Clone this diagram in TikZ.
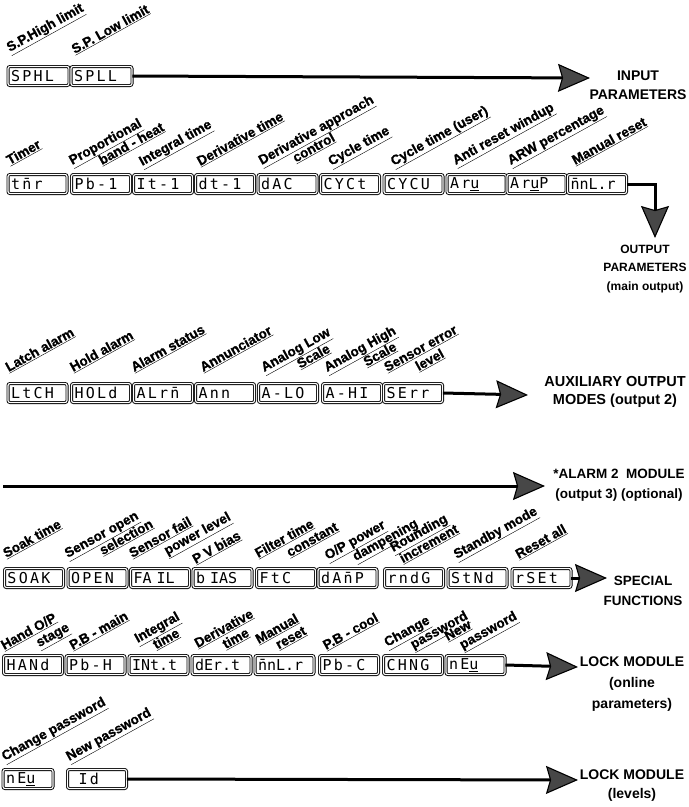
\documentclass[tikz,border=0pt]{standalone}
\usepackage{fontspec}
\setmainfont{Liberation Sans}
\newfontfamily\segfamily[LetterSpace=15]{DejaVu Sans Mono}
\newfontfamily\tagfamily[FakeBold=1]{Liberation Sans Bold}
\usetikzlibrary{arrows.meta,calc}
\newcommand\segfont{\segfamily\fontsize{15}{15}\selectfont}
\newcommand\segtight[1]{{\addfontfeature{LetterSpace=0}#1}}
\newcommand\tagfont{\tagfamily\fontsize{13.5}{14}\selectfont}
\newcommand\tagu[1]{\underline{#1}}
% one-line label: name, box, dx, dy, text
\newcommand\onetag[5]{%
  \node[tag] (#1) at ([shift={(#3pt,#4pt)}]#2.north west) {\tagu{#5}};}
% two-line label: name, box, dx, dy, line1, line2, along-shift
\newcommand\twotag[7]{%
  \node[tag] (#1) at ([shift={(#3pt,#4pt)}]#2.north west) {\tagu{#5}};
  \node[tag] (#1b) at ($(#1.base west)+(-61:14.5pt)+(29:#7pt)$) {\tagu{#6}};}
\begin{document}
\begin{tikzpicture}[x=1pt,y=-1pt,
  lcd/.style={draw, line width=0.9pt, double, double distance=1.2pt, rounded corners=2pt,
    minimum height=19pt, text width=53pt, align=left, inner xsep=3pt, inner ysep=0pt, font=\segfont},
  tag/.style={rotate=29, anchor=base west, inner sep=0pt, font=\tagfont},
  flow/.style={line width=3pt, -{Stealth[length=32pt,width=28pt,inset=4pt,fill=black!72,line width=1.1pt]}},
  dest/.style={align=center, inner sep=0pt}]
\useasboundingbox (0,0) rectangle (689,807);
\fill[white] (0,0) rectangle (689,807);

% ---------- Row 1: input parameters
\node[lcd, text width=55pt] (sphl) at (38.5,76) {SPHL};
\node[lcd, text width=55pt] (spll) at (101.5,76) {SPLL};
\onetag{t-sphl}{sphl}{2}{14}{S.P.High limit}
\onetag{t-spll}{spll}{4}{12}{S.P. Low limit}
\coordinate (inp-tip) at (590,78);
\draw[flow] (spll.east) -- (inp-tip);
\node[dest, font=\fontsize{14}{19}\selectfont\bfseries] (inp) at (638,85) {INPUT\\PARAMETERS};

% ---------- Row 2: output parameters
\node[lcd] (tmr) at (37.5,184) {t\=nr};
\node[lcd] (pbh) at (101,184) {Pb-1};
\node[lcd] (it) at (163,184) {It-1};
\node[lcd] (dt) at (225,184) {dt-1};
\node[lcd] (dac) at (287.5,184) {dAC};
\node[lcd] (cyct) at (350,184) {CYCt};
\node[lcd] (cycu) at (413.5,184) {CYCU};
\node[lcd] (arw) at (476.5,184) {Ar\underline{u}};
\node[lcd] (arwp) at (536.5,184) {Ar\underline{u}P};
\node[lcd] (mnlr) at (597,184) {\segtight{\=nnL.r}};
\onetag{t-tmr}{tmr}{2}{9}{Timer}
\twotag{t-pbh}{pbh}{1}{9}{Proportional}{band - heat}{26}
\onetag{t-it}{it}{9}{8}{Integral time}
\onetag{t-dt}{dt}{5}{8}{Derivative time}
\twotag{t-dac}{dac}{4}{9}{Derivative approach}{control}{31}
\onetag{t-cyct}{cyct}{11}{8}{Cycle time}
\onetag{t-cycu}{cycu}{10}{8}{Cycle time (user)}
\onetag{t-arw}{arw}{9}{9}{Anti reset windup}
\onetag{t-arwp}{arwp}{4}{9}{ARW percentage}
\onetag{t-mnlr}{mnlr}{8}{9}{Manual reset}
\coordinate (out-tip) at (655,238);
\draw[flow] (mnlr.east) -| (out-tip);
\node[dest, font=\fontsize{12}{18.5}\selectfont\bfseries] (outp) at (645,269) {OUTPUT\\PARAMETERS\\(main output)};

% ---------- Row 3: auxiliary output modes
\node[lcd] (ltch) at (37.5,393) {LtCH};
\node[lcd] (hold) at (101,393) {HOLd};
\node[lcd] (alrm) at (163,393) {ALr\=n};
\node[lcd] (ann) at (225,393) {Ann};
\node[lcd] (alo) at (288,393) {A-LO};
\node[lcd] (ahi) at (352,393) {A-HI};
\node[lcd] (serr) at (413,393) {SErr};
\onetag{t-ltch}{ltch}{1}{11}{Latch alarm}
\onetag{t-hold}{hold}{2}{11}{Hold alarm}
\onetag{t-alrm}{alrm}{1}{11}{Alarm status}
\onetag{t-ann}{ann}{8}{11}{Annunciator}
\twotag{t-alo}{alo}{6}{11}{Analog Low}{Scale}{33}
\twotag{t-ahi}{ahi}{5}{11}{Analog High}{Scale}{37}
\twotag{t-serr}{serr}{4}{11}{Sensor error}{level}{28}
\coordinate (aux-tip) at (528,395);
\draw[flow] (serr.east) -- (aux-tip);
\node[dest, font=\fontsize{14.5}{18}\selectfont\bfseries] (aux) at (615,392) {AUXILIARY OUTPUT\\MODES (output 2)};

% ---------- Row 4: alarm 2 module
\coordinate (a2-start) at (3,486);
\coordinate (a2-tip) at (545,486);
\draw[flow] (a2-start) -- (a2-tip);
\node[dest, font=\fontsize{13.5}{20}\selectfont\bfseries] (alarm) at (619,485) {*ALARM 2~ MODULE\\(output 3) (optional)};

% ---------- Row 5: special functions
\node[lcd] (soak) at (34,578) {SOAK};
\node[lcd] (open) at (97.5,578) {OPEN};
\node[lcd] (fail) at (160,578) {\segtight{FA IL}};
\node[lcd] (bias) at (222.5,578) {\segtight{b IAS}};
\node[lcd] (ftc) at (286,578) {FtC};
\node[lcd] (damp) at (347.5,578) {dA\=nP};
\node[lcd] (rndg) at (414,578) {rndG};
\node[lcd] (stnd) at (477.5,578) {StNd};
\node[lcd] (rset) at (541.5,578) {rSEt};
\onetag{t-soak}{soak}{2}{10}{Soak time}
\twotag{t-open}{open}{0}{10}{Sensor open}{selection}{32}
\twotag{t-fail}{fail}{2}{10}{Sensor fail}{power level}{32}
\onetag{t-bias}{bias}{3}{4}{P V bias}
\twotag{t-ftc}{ftc}{2}{10}{Filter time}{constant}{28}
\twotag{t-damp}{damp}{10}{8}{O/P power}{dampening}{24}
\twotag{t-rndg}{rndg}{9}{16}{Rounding}{increment}{3}
\onetag{t-stnd}{stnd}{9}{9}{Standby mode}
\onetag{t-rset}{rset}{7}{9}{Reset all}
\coordinate (spec-tip) at (607,578);
\draw[flow] (rset.east) -- (spec-tip);
\node[dest, font=\fontsize{13.5}{20}\selectfont\bfseries] (spec) at (643,591) {SPECIAL\\FUNCTIONS};

% ---------- Row 6: lock module (online parameters)
\node[lcd] (hand) at (33,665) {HANd};
\node[lcd] (pbm) at (95.5,665) {Pb-H};
\node[lcd] (intt) at (158.5,665) {\segtight{INt.t}};
\node[lcd] (dert) at (221.5,665) {\segtight{dEr.t}};
\node[lcd] (mnlr2) at (284.5,665) {\segtight{\=nnL.r}};
\node[lcd] (pbc) at (349,665) {Pb-C};
\node[lcd] (chng) at (413,665) {CHNG};
\node[lcd] (new6) at (475.5,665) {nE\underline{u}};
\twotag{t-hand}{hand}{1}{5}{Hand O/P}{stage}{32}
\onetag{t-pbm}{pbm}{7}{5}{P.B - main}
\twotag{t-intt}{intt}{9}{12}{Integral}{time}{13}
\twotag{t-dert}{dert}{6}{7}{Derivative}{time}{24}
\twotag{t-mnlr2}{mnlr2}{4}{11}{Manual}{reset}{15}
\onetag{t-pbc}{pbc}{7}{5}{P.B - cool}
\twotag{t-chng}{chng}{4}{8}{Change}{password}{22}
\twotag{t-new6}{new6}{2}{14}{New}{password}{9}
\coordinate (lk1-tip) at (578,667);
\draw[flow] (new6.east) -- (lk1-tip);
\node[dest, font=\fontsize{14}{21}\selectfont\bfseries] (lock1) at (632,684) {LOCK MODULE\\(online\\parameters)};

% ---------- Row 7: lock module (levels)
\node[lcd, text width=44pt] (new7) at (28,779) {nE\underline{u}};
\node[lcd] (id) at (97,779) {\hspace{8pt}Id};
\onetag{t-new7}{new7}{2}{8}{Change password}
\onetag{t-id}{id}{2}{8}{New password}
\coordinate (lk2-tip) at (578,780);
\draw[flow] (id.east) -- (lk2-tip);
\node[dest, font=\fontsize{14}{19}\selectfont\bfseries] (lock2) at (632,786) {LOCK MODULE\\(levels)};
\end{tikzpicture}
\end{document}
